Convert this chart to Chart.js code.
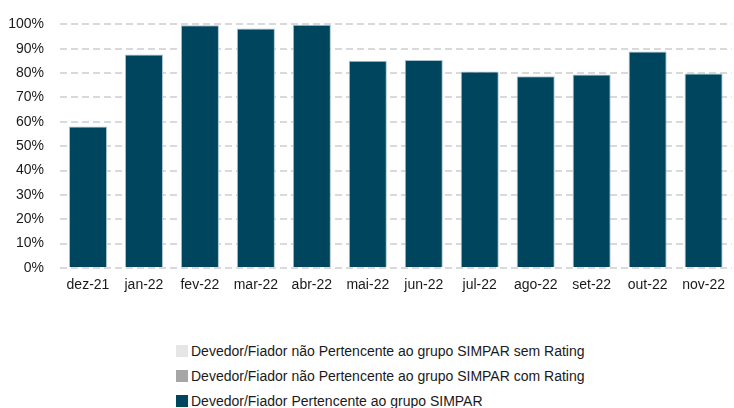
<!DOCTYPE html>
<html><head><meta charset="utf-8">
<script src="https://cdn.jsdelivr.net/npm/chart.js@4/dist/chart.umd.min.js"></script>
<style>
html,body{margin:0;padding:0;background:#fff;width:734px;height:408px;overflow:hidden;font-family:"Liberation Sans",Arial,sans-serif;}
#wrap{position:absolute;left:0;top:0;width:734px;height:300px;}
#legend{position:absolute;left:176px;top:338px;font-size:14px;color:#1a1a1a;}
#legend .it{height:25px;line-height:22px;white-space:nowrap;display:flex;align-items:center;}
#legend .bx{width:12px;height:12px;margin-right:3px;display:inline-block;}
</style></head>
<body>
<div id="wrap"><canvas id="c" width="734" height="300"></canvas></div>
<div id="legend"></div>
<script>
const categories = ["dez-21","jan-22","fev-22","mar-22","abr-22","mai-22","jun-22","jul-22","ago-22","set-22","out-22","nov-22"];
const semRating = [0,0,0,0,0,0,0,0,0,0,0,0];
const comRating = [0,0,0,0,0,0,0,0,0,0,0,0];
const grupoSimpar = [58.1,87.6,99.7,98.3,99.9,85.1,85.4,80.7,78.7,79.4,88.9,79.8];
const seriesNames = ["Devedor/Fiador não Pertencente ao grupo SIMPAR sem Rating","Devedor/Fiador não Pertencente ao grupo SIMPAR com Rating","Devedor/Fiador Pertencente ao grupo SIMPAR"];
const seriesColors = ["#e6e6e6","#a6a6a6","#00455e"];

const chart = new Chart(document.getElementById('c'), {
  type: 'bar',
  data: {
    labels: categories,
    datasets: [
      {label: seriesNames[2], data: grupoSimpar, backgroundColor: seriesColors[2], borderColor: '#a9c2cd', borderWidth: 1, borderSkipped: 'bottom', order: 3},
      {label: seriesNames[1], data: comRating, backgroundColor: seriesColors[1], borderWidth: 0, order: 2},
      {label: seriesNames[0], data: semRating, backgroundColor: seriesColors[0], borderWidth: 0, order: 1}
    ]
  },
  options: {
    responsive: false,
    animation: false,
    layout: {padding: {top: 12, right: 0, left: 0, bottom: 0}},
    datasets: {bar: {barPercentage: 0.68, categoryPercentage: 1}},
    plugins: {legend: {display: false}, tooltip: {enabled: false}},
    scales: {
      x: {
        stacked: true,
        grid: {display: false, drawTicks: false},
        border: {display: false},
        ticks: {color: '#1a1a1a', font: {family: '"Liberation Sans", Arial', size: 14}, padding: 9, maxRotation: 0},
        afterFit: s => { s.height = 32; }
      },
      y: {
        stacked: true,
        min: 0, max: 100,
        grid: {color: '#d9d9d9', lineWidth: 2, drawTicks: false},
        border: {display: false, dash: [7,4]},
        ticks: {stepSize: 10, color: '#1a1a1a', font: {family: '"Liberation Sans", Arial', size: 14}, padding: 16, callback: v => v + '%'},
        afterFit: s => { s.width = 60; }
      }
    }
  }
});

const leg = document.getElementById('legend');
[2,1,0].forEach(function(k){
  const ds = chart.data.datasets.find(d => d.label === seriesNames[k]);
  const row = document.createElement('div'); row.className = 'it';
  const b = document.createElement('span'); b.className = 'bx'; b.style.background = ds.backgroundColor;
  const t = document.createElement('span'); t.textContent = ds.label;
  row.appendChild(b); row.appendChild(t);
  leg.insertBefore(row, leg.firstChild);
});
</script>
</body></html>
